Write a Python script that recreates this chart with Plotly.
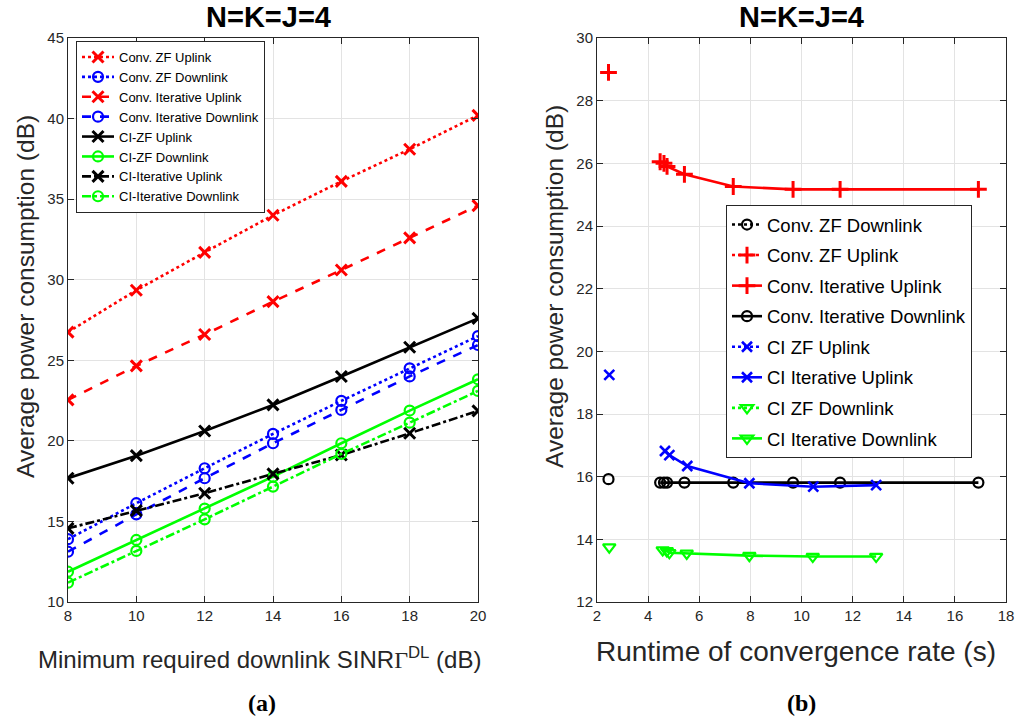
import plotly.graph_objects as go
from plotly.subplots import make_subplots

# ---------------- Data: panel (a) ----------------
sinr_db = [8, 10, 12, 14, 16, 18, 20]
conv_zf_ul = [26.75, 29.35, 31.7, 34.0, 36.1, 38.1, 40.2]
conv_zf_dl = [13.9, 16.13, 18.3, 20.43, 22.48, 24.5, 26.5]
conv_it_ul = [22.54, 24.65, 26.6, 28.64, 30.6, 32.6, 34.6]
conv_it_dl = [13.12, 15.44, 17.68, 19.85, 21.92, 24.0, 25.95]
ci_zf_ul = [17.68, 19.08, 20.61, 22.23, 23.99, 25.81, 27.6]
ci_zf_dl = [11.88, 13.85, 15.8, 17.78, 19.85, 21.88, 23.82]
ci_it_ul = [14.57, 15.67, 16.75, 17.95, 19.12, 20.47, 21.86]
ci_it_dl = [11.2, 13.17, 15.13, 17.16, 19.19, 21.13, 23.1]

# ---------------- Data: panel (b) ----------------
b_conv_zf_x = [2.45]
b_conv_zf_dl = [15.92]
b_conv_zf_ul = [28.9]
b_conv_it_x = [4.47, 4.62, 4.74, 5.42, 7.33, 9.67, 11.51, 16.92]
b_conv_it_ul = [26.05, 26.0, 25.9, 25.65, 25.26, 25.17, 25.17, 25.17]
b_conv_it_dl = [15.81, 15.81, 15.81, 15.81, 15.81, 15.81, 15.81, 15.81]
b_ci_zf_x = [2.48]
b_ci_zf_ul = [19.25]
b_ci_zf_dl = [13.75]
b_ci_it_ul_x = [4.66, 4.83, 5.53, 7.96, 10.46, 12.92]
b_ci_it_ul = [16.82, 16.69, 16.34, 15.79, 15.68, 15.73]
b_ci_it_dl_x = [4.57, 4.73, 4.83, 5.51, 7.96, 10.44, 12.92]
b_ci_it_dl = [13.66, 13.63, 13.57, 13.55, 13.48, 13.45, 13.45]

RED, BLUE, BLACK, GREEN = "#FF0000", "#0000FF", "#000000", "#00FF00"
LW = 2.6

fig = make_subplots(rows=1, cols=2, horizontal_spacing=0.127)

_count = [0]


def add(row, col, x, y, name, color, dash, symbol, legend, msize=10, mlw=2.2, mode="lines+markers"):
    _count[0] += 1
    fig.add_trace(go.Scatter(
        x=x, y=y, name=name, mode=mode,
        line=dict(color=color, width=LW, dash=dash),
        marker=dict(symbol=symbol, size=msize, color=color,
                    line=dict(color=color, width=mlw)),
        legend=legend, legendgroup="g%d" % _count[0],
    ), row=row, col=col)


# panel (a)
add(1, 1, sinr_db, conv_zf_ul, "Conv. ZF Uplink", RED, "dot", "x-thin", "legend", 11, 3)
add(1, 1, sinr_db, conv_zf_dl, "Conv. ZF Downlink", BLUE, "dot", "circle-open", "legend")
add(1, 1, sinr_db, conv_it_ul, "Conv. Iterative Uplink", RED, "dash", "x-thin", "legend", 11, 3)
add(1, 1, sinr_db, conv_it_dl, "Conv. Iterative Downlink", BLUE, "dash", "circle-open", "legend")
add(1, 1, sinr_db, ci_zf_ul, "CI-ZF Uplink", BLACK, "solid", "x-thin", "legend", 11, 3)
add(1, 1, sinr_db, ci_zf_dl, "CI-ZF Downlink", GREEN, "solid", "circle-open", "legend")
add(1, 1, sinr_db, ci_it_ul, "CI-Iterative Uplink", BLACK, "dashdot", "x-thin", "legend", 11, 3)
add(1, 1, sinr_db, ci_it_dl, "CI-Iterative Downlink", GREEN, "dashdot", "circle-open", "legend")

# panel (b)
add(1, 2, b_conv_zf_x, b_conv_zf_dl, "Conv. ZF Downlink", BLACK, "dot", "circle-open", "legend2")
add(1, 2, b_conv_zf_x, b_conv_zf_ul, "Conv. ZF Uplink", RED, "dot", "cross-thin", "legend2", 12, 3)
add(1, 2, b_conv_it_x, b_conv_it_ul, "Conv. Iterative Uplink", RED, "solid", "cross-thin", "legend2", 12, 3)
add(1, 2, b_conv_it_x, b_conv_it_dl, "Conv. Iterative Downlink", BLACK, "solid", "circle-open", "legend2")
add(1, 2, b_ci_zf_x, b_ci_zf_ul, "CI ZF Uplink", BLUE, "dot", "x-thin", "legend2", 10, 2.6)
add(1, 2, b_ci_it_ul_x, b_ci_it_ul, "CI Iterative Uplink", BLUE, "solid", "x-thin", "legend2", 10, 2.6)
add(1, 2, b_ci_zf_x, b_ci_zf_dl, "CI ZF Downlink", GREEN, "dot", "triangle-down-open", "legend2", 11)
add(1, 2, b_ci_it_dl_x, b_ci_it_dl, "CI Iterative Downlink", GREEN, "solid", "triangle-down-open", "legend2", 11)

axis_common = dict(
    showline=True, linecolor="#262626", linewidth=1, mirror="ticks",
    ticks="inside", ticklen=6, tickcolor="#262626",
    showgrid=True, gridcolor="#E3E3E3", gridwidth=1, zeroline=False,
    automargin=False,
    tickfont=dict(family="Liberation Sans, Arial", size=15, color="#262626"),
)

fig.update_xaxes(axis_common)
fig.update_yaxes(axis_common)
fig.update_xaxes(range=[8, 20], dtick=2, tick0=8, row=1, col=1)
fig.update_yaxes(range=[10, 45], dtick=5, tick0=10, row=1, col=1)
fig.update_xaxes(range=[2, 18], dtick=2, tick0=2, row=1, col=2)
fig.update_yaxes(range=[12, 30], dtick=2, tick0=12, row=1, col=2)

W, H = 1017, 722
ml, mr, mt, mb = 68, 11, 38, 120
pw = W - ml - mr
ph = H - mt - mb
fig.update_layout(
    width=W, height=H,
    margin=dict(l=ml, r=mr, t=mt, b=mb, autoexpand=False),
    paper_bgcolor="white", plot_bgcolor="white",
    font=dict(family="Liberation Sans, Arial", color="#000000"),
    legend=dict(
        x=(76 - ml) / pw, y=1 - (41 - mt) / ph, xanchor="left", yanchor="top",
        bgcolor="white", bordercolor="#262626", borderwidth=1,
        font=dict(family="Liberation Sans, Arial", size=13, color="#000000"),
        tracegroupgap=0, itemwidth=32, traceorder="normal",
    ),
    legend2=dict(
        x=(726 - ml) / pw, y=1 - (205 - mt) / ph, xanchor="left", yanchor="top",
        bgcolor="white", bordercolor="#262626", borderwidth=1,
        font=dict(family="Liberation Sans, Arial", size=18.5, color="#000000"),
        tracegroupgap=3.5, itemwidth=30, traceorder="grouped",
    ),
    showlegend=True,
)
fig.update_xaxes(domain=[0, (478 - ml) / pw], row=1, col=1)
fig.update_xaxes(domain=[(597 - ml) / pw, 1], row=1, col=2)


def px_x(p):
    return (p - ml) / pw


def px_y(p):
    return 1 - (p - mt) / ph


ann = []
title_font = dict(family="Liberation Sans, Arial", size=29, color="#000000")
ann.append(dict(text="<b>N=K=J=4</b>", x=px_x(268), y=px_y(17), xref="paper", yref="paper",
                showarrow=False, font=title_font, xanchor="center", yanchor="middle"))
ann.append(dict(text="<b>N=K=J=4</b>", x=px_x(801), y=px_y(17), xref="paper", yref="paper",
                showarrow=False, font=title_font, xanchor="center", yanchor="middle"))
lab_font = dict(family="Liberation Sans, Arial", size=24.5, color="#262626")
ann.append(dict(text="Average power consumption (dB)", x=px_x(25), y=px_y(297), xref="paper", yref="paper",
                showarrow=False, font=lab_font, textangle=-90, xanchor="center", yanchor="middle"))
ann.append(dict(text="Average power consumption (dB)", x=px_x(554), y=px_y(287), xref="paper", yref="paper",
                showarrow=False, font=lab_font, textangle=-90, xanchor="center", yanchor="middle"))
ann.append(dict(text="Minimum required downlink SINR<span style='font-family:Liberation Serif'>Γ</span><sup>DL</sup> (dB)",
                x=px_x(259), y=px_y(658), xref="paper", yref="paper",
                showarrow=False, font=dict(family="Liberation Sans, Arial", size=24, color="#262626"),
                xanchor="center", yanchor="middle"))
ann.append(dict(text="Runtime of convergence rate (s)", x=px_x(796), y=px_y(651), xref="paper", yref="paper",
                showarrow=False, font=dict(family="Liberation Sans, Arial", size=28, color="#262626"),
                xanchor="center", yanchor="middle"))
ab_font = dict(family="Liberation Serif, Times New Roman", size=24, color="#000000")
ann.append(dict(text="<b>(a)</b>", x=px_x(262), y=px_y(703), xref="paper", yref="paper",
                showarrow=False, font=ab_font, xanchor="center", yanchor="middle"))
ann.append(dict(text="<b>(b)</b>", x=px_x(801), y=px_y(703), xref="paper", yref="paper",
                showarrow=False, font=ab_font, xanchor="center", yanchor="middle"))
fig.update_layout(annotations=ann)

fig.write_html("out.html")
